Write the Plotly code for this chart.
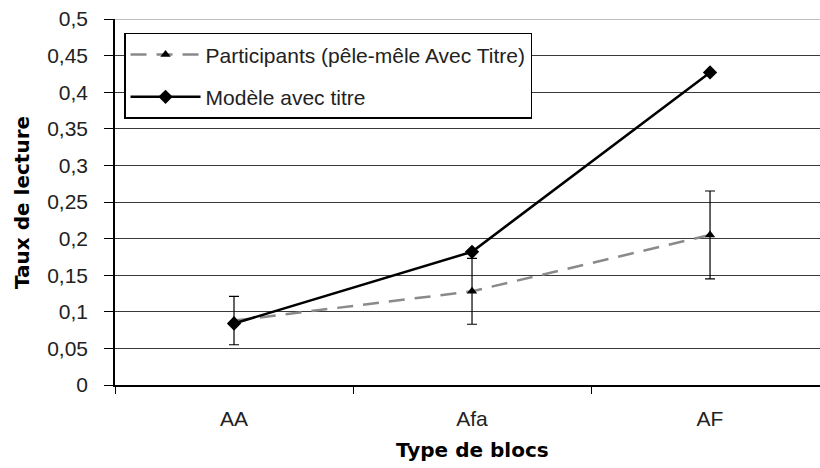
import plotly.graph_objects as go

# Reading rate by block type
categories = ["AA", "Afa", "AF"]
participants = [0.088, 0.128, 0.205]
participants_err = [0.033, 0.045, 0.060]
modele = [0.084, 0.182, 0.427]

y_tick_values = [0, 0.05, 0.1, 0.15, 0.2, 0.25, 0.3, 0.35, 0.4, 0.45, 0.5]
y_tick_labels = ["0", "0,05", "0,1", "0,15", "0,2", "0,25", "0,3", "0,35", "0,4", "0,45", "0,5"]

FONT = "Liberation Sans, Arial, sans-serif"
BOLD_FONT = "DejaVu Sans, sans-serif"

fig = go.Figure()

fig.add_trace(go.Scatter(
    x=categories, y=participants,
    name="Participants (pêle-mêle Avec Titre)",
    legendgroup="p",
    mode="lines+markers",
    line=dict(color="#8a8a8a", width=2.5, dash="16px,10px"),
    marker=dict(symbol="triangle-up", size=9, color="black"),
    error_y=dict(type="data", array=participants_err, visible=True,
                 color="black", thickness=1.2, width=5),
))

fig.add_trace(go.Scatter(
    x=categories, y=modele,
    name="Modèle avec titre",
    legendgroup="m",
    mode="lines+markers",
    line=dict(color="black", width=2.5),
    marker=dict(symbol="diamond", size=11, color="black"),
))

# lighter top border of the plot area
fig.add_shape(type="line", xref="paper", yref="y", x0=0, x1=1, y0=0.5, y1=0.5,
              line=dict(color="#a8a8a8", width=1.5), layer="above")

fig.add_annotation(text="<b>Taux de lecture</b>", xref="paper", yref="paper",
                   x=-0.132, y=0.5, textangle=-90, showarrow=False,
                   font=dict(family=BOLD_FONT, size=20, color="black"),
                   xanchor="center", yanchor="middle")
fig.add_annotation(text="<b>Type de blocs</b>", xref="x", yref="paper",
                   x=1, y=-0.177, showarrow=False,
                   font=dict(family=BOLD_FONT, size=20, color="black"),
                   xanchor="center", yanchor="middle")

fig.update_layout(
    width=820, height=468,
    margin=dict(l=115, r=0, t=19, b=83),
    paper_bgcolor="white", plot_bgcolor="white",
    font=dict(family=FONT, size=21, color="#222222"),
    showlegend=True,
    legend=dict(
        x=0.0128, y=0.962, xanchor="left", yanchor="top",
        bgcolor="white", bordercolor="black", borderwidth=1.5,
        font=dict(family=FONT, size=21, color="#222222"),
        traceorder="grouped", tracegroupgap=12,
        itemwidth=70,
    ),
    xaxis=dict(
        type="category", range=[-0.5, 2.462],
        tickson="boundaries", ticks="outside", ticklen=7, tickcolor="black",
        showline=True, linecolor="black", linewidth=1.5,
        showgrid=False, zeroline=False,
        ticklabelstandoff=14,
    ),
    yaxis=dict(
        range=[0, 0.5], tickvals=y_tick_values, ticktext=y_tick_labels,
        ticks="outside", ticklen=9, tickcolor="black",
        showline=True, linecolor="black", linewidth=1.5,
        showgrid=True, gridcolor="#3a3a3a", gridwidth=1.2,
        zeroline=False, ticklabelstandoff=12,
    ),
)

fig.write_html("out.html")
